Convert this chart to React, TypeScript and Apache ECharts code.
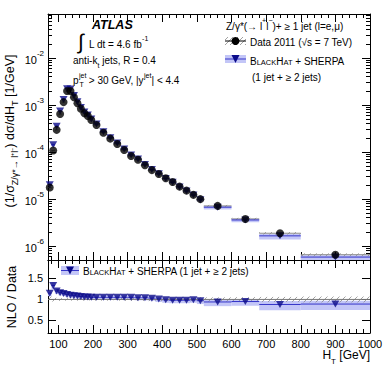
import React, { useEffect, useRef } from 'react';
import * as echarts from 'echarts';

// ---------------- data ----------------
const binEdges = [
  70, 80, 90, 100, 110, 120, 130, 140, 150, 160, 170, 180, 190, 200,
  220, 240, 260, 280, 300, 320, 340, 360, 380, 400, 420, 440, 460, 480, 500, 520,
  600, 680, 800, 1000,
];
const dataValues = [
  1.75e-5, 1.07e-4, 2.95e-4, 6.4e-4, 1.15e-3, 1.98e-3, 1.98e-3, 1.46e-3, 1.09e-3, 8.3e-4,
  6.65e-4, 5.8e-4, 4.8e-4, 3.75e-4, 2.57e-4, 1.92e-4, 1.48e-4, 1.1e-4, 8.2e-5, 6.8e-5,
  5.2e-5, 4.1e-5, 3.4e-5, 2.75e-5, 2.3e-5, 1.83e-5, 1.5e-5, 1.22e-5, 9.9e-6, 7.1e-6,
  3.75e-6, 1.86e-6, 6.5e-7,
];
const dataRelErr = [
  0.08, 0.05, 0.04, 0.035, 0.03, 0.03, 0.03, 0.03, 0.03, 0.03,
  0.03, 0.03, 0.03, 0.03, 0.03, 0.03, 0.03, 0.035, 0.035, 0.035,
  0.035, 0.04, 0.04, 0.04, 0.04, 0.045, 0.045, 0.045, 0.05, 0.05,
  0.055, 0.06, 0.07,
];
const nloRatio = [
  1.15, 1.33, 1.2, 1.16, 1.14, 1.12, 1.1, 1.09, 1.08, 1.07,
  1.06, 1.06, 1.05, 1.05, 1.05, 1.05, 1.05, 1.05, 1.05, 1.04,
  1.04, 1.03, 1.01, 0.99, 0.98, 0.98, 0.98, 0.99, 0.97, 0.94,
  0.95, 0.88, 0.89,
];
const nloErrUp = [
  0.06, 0.08, 0.06, 0.05, 0.05, 0.05, 0.05, 0.05, 0.05, 0.05,
  0.05, 0.05, 0.05, 0.05, 0.05, 0.05, 0.05, 0.05, 0.05, 0.05,
  0.05, 0.05, 0.05, 0.05, 0.05, 0.05, 0.05, 0.05, 0.05, 0.06,
  0.06, 0.08, 0.08,
];
const nloErrDown = [
  0.07, 0.09, 0.07, 0.06, 0.06, 0.06, 0.06, 0.06, 0.06, 0.06,
  0.06, 0.06, 0.06, 0.06, 0.06, 0.06, 0.06, 0.06, 0.06, 0.06,
  0.06, 0.06, 0.07, 0.07, 0.07, 0.07, 0.07, 0.07, 0.08, 0.1,
  0.1, 0.14, 0.14,
];

const xMajorTicks = [100, 200, 300, 400, 500, 600, 700, 800, 900, 1000];
const yMajorExponents = [-6, -5, -4, -3, -2];
const ratioTicks = [0.5, 1, 1.5];

// ---------------- layout / style ----------------
const X_MIN = 70;
const X_MAX = 1000;
const Y_MIN = -6.3;
const Y_MAX = -1.064;
const R_MIN = 0.2;
const R_MAX = 1.94;

const FONT = '"Liberation Sans", Arial, Helvetica, sans-serif';
const NAVY = '#0b0b8a';
const BAND = '#c3c6f7';
const MCLINE = '#3434c8';
const HATCH = '#8a8a8a';

const lg = (v: number) => Math.log10(v);

const xMinorTicks: number[] = [];
for (let v = 80; v < 1000; v += 20) if (v % 100 !== 0) xMinorTicks.push(v);
const yMinorTicks: number[] = [];
for (let n = -7; n <= -2; n++) for (let k = 2; k <= 9; k++) {
  const t = n + Math.log10(k);
  if (t > Y_MIN && t < Y_MAX) yMinorTicks.push(t);
}

// ---------------- render helpers ----------------
const rectRender = (fill: string) => (params: any, api: any) => {
  const a = api.coord([api.value(0), api.value(3)]);
  const b = api.coord([api.value(1), api.value(2)]);
  return {
    type: 'rect',
    shape: { x: a[0], y: a[1], width: b[0] - a[0], height: b[1] - a[1] },
    style: { fill },
  };
};

const hatchRender = (color: string, step: number) => (params: any, api: any) => {
  const a = api.coord([api.value(0), api.value(3)]);
  const b = api.coord([api.value(1), api.value(2)]);
  const x0 = Math.min(a[0], b[0]);
  const x1 = Math.max(a[0], b[0]);
  const y0 = Math.min(a[1], b[1]);
  const y1 = Math.max(a[1], b[1]);
  const children: any[] = [];
  const cStart = Math.ceil((x0 + y0) / step) * step;
  for (let c = cStart; c <= x1 + y1; c += step) {
    const xa = Math.max(x0, c - y1);
    const xb = Math.min(x1, c - y0);
    if (xb - xa > 0.6) {
      children.push({
        type: 'line',
        shape: { x1: xa, y1: c - xa, x2: xb, y2: c - xb },
        style: { stroke: color, lineWidth: 0.8 },
      });
    }
  }
  return { type: 'group', children };
};

const hLineRender = (color: string, width: number) => (params: any, api: any) => {
  const a = api.coord([api.value(0), api.value(2)]);
  const b = api.coord([api.value(1), api.value(2)]);
  return {
    type: 'line',
    shape: { x1: a[0], y1: a[1], x2: b[0], y2: b[1] },
    style: { stroke: color, lineWidth: width },
  };
};

function xAxis(grid: number, pos: string, ticks: number[], len: number, labels: boolean, line: boolean) {
  return {
    type: 'value', gridIndex: grid, position: pos, min: X_MIN, max: X_MAX,
    axisLine: { show: line, lineStyle: { color: '#000', width: 1 } },
    axisTick: { show: true, inside: true, length: len, customValues: ticks, lineStyle: { color: '#000', width: 1 } },
    axisLabel: labels
      ? {
          show: true, customValues: xMajorTicks, margin: 5, color: '#000', fontSize: 11, fontFamily: FONT,
          formatter: (v: number) => String(v),
        }
      : { show: false },
    splitLine: { show: false },
  };
}

function yAxis(grid: number, pos: string, ticks: number[], len: number, min: number, max: number, label: any, line: boolean) {
  return {
    type: 'value', gridIndex: grid, position: pos, min, max,
    axisLine: { show: line, lineStyle: { color: '#000', width: 1 } },
    axisTick: { show: true, inside: true, length: len, customValues: ticks, lineStyle: { color: '#000', width: 1 } },
    axisLabel: label || { show: false },
    splitLine: { show: false },
  };
}

function txt(x: number, y: number, text: string, rich: any, size = 10, align = 'left', rotation = 0, extra: any = {}) {
  return {
    type: 'text', x, y, rotation, z: 100,
    style: {
      text, rich, fill: '#000',
      font: `${extra.style || 'normal'} ${extra.weight || 'normal'} ${size}px ${FONT}`,
      fontSize: size, fontFamily: FONT, fontWeight: extra.weight || 'normal', fontStyle: extra.style || 'normal',
      textAlign: align, align, textVerticalAlign: 'middle', verticalAlign: 'middle',
    },
  };
}

const R = (size: number, lh: number, va = 'middle', extra: any = {}) => ({
  fontSize: size, lineHeight: lh, verticalAlign: va, fontFamily: FONT, fill: '#000', color: '#000', ...extra,
});

function buildOption() {
  const lo = (i: number) => binEdges[i];
  const hi = (i: number) => binEdges[i + 1];
  const ctr = (i: number) => (binEdges[i] + binEdges[i + 1]) / 2;
  const idx = dataValues.map((_, i) => i);

  const topMCBand = idx.map(i => [lo(i), hi(i), lg(dataValues[i] * (nloRatio[i] - nloErrDown[i])), lg(dataValues[i] * (nloRatio[i] + nloErrUp[i]))]);
  const topDataBand = idx.map(i => [lo(i), hi(i), lg(dataValues[i] * (1 - dataRelErr[i])), lg(dataValues[i] * (1 + dataRelErr[i]))]);
  const topDataLine = idx.map(i => [lo(i), hi(i), lg(dataValues[i])]);
  const topMCLine = idx.map(i => [lo(i), hi(i), lg(dataValues[i] * nloRatio[i])]);
  const topMCPts = idx.map(i => [ctr(i), lg(dataValues[i] * nloRatio[i])]);
  const topDataPts = idx.map(i => [ctr(i), lg(dataValues[i])]);

  const botDataBand = idx.map(i => [lo(i), hi(i), 1 - dataRelErr[i], 1 + dataRelErr[i]]);
  const botMCBand = idx.map(i => [lo(i), hi(i), nloRatio[i] - nloErrDown[i], nloRatio[i] + nloErrUp[i]]);
  const botMCLine = idx.map(i => [lo(i), hi(i), nloRatio[i]]);
  const botMCPts = idx.map(i => [ctr(i), nloRatio[i]]);

  const custom = (xi: number, yi: number, data: any[], render: any, dims: number, z = 2) => ({
    type: 'custom', xAxisIndex: xi, yAxisIndex: yi, data, renderItem: render, clip: true, z,
    encode: dims === 4 ? { x: [0, 1], y: [2, 3] } : { x: [0, 1], y: [2] },
    silent: true,
  });

  const yLabelTop = {
    show: true, customValues: yMajorExponents, margin: 4,
    formatter: (v: number) => `{b|10}{s|${Math.round(v)}}`,
    rich: {
      b: { fontSize: 11, lineHeight: 16, verticalAlign: 'bottom', fontFamily: FONT, color: '#000' },
      s: { fontSize: 8, lineHeight: 9, verticalAlign: 'top', fontFamily: FONT, color: '#000' },
    },
  };
  const yLabelBot = {
    show: true, customValues: ratioTicks, margin: 5, color: '#000', fontSize: 11, fontFamily: FONT,
    formatter: (v: number) => String(v),
  };

  // ------------- legend / annotation graphics -------------
  const g: any[] = [];
  g.push(txt(92, 25, 'ATLAS', undefined, 12.5, 'left', 0, { weight: 'bold', style: 'italic' }));
  g.push(txt(78, 41, '∫', undefined, 21, 'left'));
  g.push(txt(89, 42, '{n|L dt = 4.6 fb}{s|-1}', { n: R(10, 14, 'bottom'), s: R(7, 8, 'top') }, 10));
  g.push(txt(73, 62, '{n|anti-k}{t|t}{n| jets, R = 0.4}', { n: R(10, 14, 'top'), t: R(7, 8, 'bottom') }, 10));
  g.push(txt(73, 80, 'p', undefined, 10));
  g.push(txt(79, 75, 'jet', undefined, 7));
  g.push(txt(79.5, 84, 'T', undefined, 7));
  g.push(txt(86, 80, ' > 30 GeV, |y', undefined, 10));
  g.push(txt(144, 75, 'jet', undefined, 7));
  g.push(txt(151.5, 80, '| < 4.4', undefined, 10));

  // top right legend
  g.push(txt(226, 24, '{n|Z/γ*(→ l}{s|+}{n|l}{s|−}{n|)+ ≥ 1 jet (l=e,μ)}', { n: R(10, 14, 'bottom'), s: R(7, 8, 'top') }, 10));
  const hx0 = 225, hx1 = 246, hy0 = 37, hy1 = 45;
  for (let c = Math.ceil((hx0 + hy0) / 5) * 5; c <= hx1 + hy1; c += 5) {
    const xa = Math.max(hx0, c - hy1), xb = Math.min(hx1, c - hy0);
    if (xb - xa > 0.6) g.push({ type: 'line', z: 90, shape: { x1: xa, y1: c - xa, x2: xb, y2: c - xb }, style: { stroke: HATCH, lineWidth: 0.8 } });
  }
  g.push({ type: 'line', z: 91, shape: { x1: hx0, y1: 41, x2: hx1, y2: 41 }, style: { stroke: '#000', lineWidth: 1 } });
  g.push({ type: 'circle', z: 92, shape: { cx: 235.5, cy: 41, r: 4 }, style: { fill: '#000' } });
  g.push(txt(250, 42, 'Data 2011 (√s = 7 TeV)', undefined, 10));
  g.push({ type: 'rect', z: 90, shape: { x: 225, y: 55, width: 21, height: 8 }, style: { fill: BAND } });
  g.push({ type: 'line', z: 91, shape: { x1: 225, y1: 59, x2: 246, y2: 59 }, style: { stroke: MCLINE, lineWidth: 1 } });
  g.push({ type: 'polygon', z: 92, shape: { points: [[231.5, 55], [239.5, 55], [235.5, 63]] }, style: { fill: NAVY } });
  g.push(txt(250, 60, '{n|B}{c|LACK}{n|H}{c|AT}{n| + SHERPA}', { n: R(10, 12, 'bottom'), c: R(7.5, 10, 'bottom') }, 10));
  g.push(txt(252, 77, '(1 jet + ≥ 2 jets)', undefined, 10));

  // bottom legend
  g.push({ type: 'rect', z: 90, shape: { x: 61, y: 266, width: 18, height: 9 }, style: { fill: BAND } });
  g.push({ type: 'line', z: 91, shape: { x1: 61, y1: 270.5, x2: 79, y2: 270.5 }, style: { stroke: MCLINE, lineWidth: 1 } });
  g.push({ type: 'polygon', z: 92, shape: { points: [[66, 266.5], [74, 266.5], [70, 274.5]] }, style: { fill: NAVY } });
  g.push(txt(83, 270.5, '{n|B}{c|LACK}{n|H}{c|AT}{n| + SHERPA (1 jet + ≥ 2 jets)}', { n: R(10, 12, 'bottom'), c: R(7.5, 10, 'bottom') }, 10));

  // axis titles
  g.push(txt(11, 131, '{n|(1/σ}{t|Z/γ*→ l⁺l⁻}{n|) dσ/dH}{t|T}{n| [1/GeV]}', { n: R(12.5, 16, 'top'), t: R(9, 10, 'bottom') }, 12.5, 'center', Math.PI / 2));
  g.push(txt(12, 297, 'NLO / Data', undefined, 12.5, 'center', Math.PI / 2));
  g.push(txt(370, 357, '{n|H}{t|T}{n| [GeV]}', { n: R(12, 16, 'top'), t: R(8, 9, 'bottom') }, 12, 'right'));

  return {
    animation: false,
    backgroundColor: '#fff',
    textStyle: { fontFamily: FONT },
    grid: [
      { left: 48, top: 14, width: 322, height: 246 },
      { left: 48, top: 260, width: 322, height: 73 },
    ],
    xAxis: [
      xAxis(0, 'bottom', xMajorTicks, 8, false, true),
      xAxis(0, 'bottom', xMinorTicks, 4, false, false),
      xAxis(0, 'top', xMajorTicks, 8, false, true),
      xAxis(0, 'top', xMinorTicks, 4, false, false),
      xAxis(1, 'bottom', xMajorTicks, 8, true, true),
      xAxis(1, 'bottom', xMinorTicks, 4, false, false),
      xAxis(1, 'top', xMajorTicks, 8, false, true),
      xAxis(1, 'top', xMinorTicks, 4, false, false),
    ],
    yAxis: [
      yAxis(0, 'left', yMajorExponents, 8, Y_MIN, Y_MAX, yLabelTop, true),
      yAxis(0, 'left', yMinorTicks, 4, Y_MIN, Y_MAX, null, false),
      yAxis(0, 'right', yMajorExponents, 8, Y_MIN, Y_MAX, null, true),
      yAxis(0, 'right', yMinorTicks, 4, Y_MIN, Y_MAX, null, false),
      yAxis(1, 'left', ratioTicks, 8, R_MIN, R_MAX, yLabelBot, true),
      yAxis(1, 'right', ratioTicks, 8, R_MIN, R_MAX, null, true),
    ],
    series: [
      custom(0, 0, topMCBand, rectRender(BAND), 4),
      custom(0, 0, topDataBand, hatchRender(HATCH, 6), 4),
      custom(0, 0, topDataLine, hLineRender(HATCH, 1), 3),
      custom(0, 0, topMCLine, hLineRender(MCLINE, 1), 3),
      {
        type: 'scatter', xAxisIndex: 0, yAxisIndex: 0, data: topMCPts, symbol: 'triangle', symbolRotate: 180,
        symbolSize: [8, 7], itemStyle: { color: NAVY }, silent: true, z: 3,
      },
      {
        type: 'scatter', xAxisIndex: 0, yAxisIndex: 0, data: topDataPts, symbol: 'circle',
        symbolSize: 8, itemStyle: { color: '#000' }, silent: true, z: 4,
      },
      custom(4, 4, botMCBand, rectRender(BAND), 4),
      custom(4, 4, botDataBand, hatchRender(HATCH, 6), 4),
      {
        type: 'line', xAxisIndex: 4, yAxisIndex: 4, data: [[X_MIN, 1], [X_MAX, 1]], symbol: 'none',
        lineStyle: { color: '#777', width: 1 }, silent: true, z: 2,
      },
      custom(4, 4, botMCLine, hLineRender(MCLINE, 1), 3),
      {
        type: 'scatter', xAxisIndex: 4, yAxisIndex: 4, data: botMCPts, symbol: 'triangle', symbolRotate: 180,
        symbolSize: [8, 7], itemStyle: { color: NAVY }, silent: true, z: 3,
      },
    ],
    graphic: { elements: g },
  };
}

export default function App() {
  const ref = useRef<HTMLDivElement>(null);
  useEffect(() => {
    if (!ref.current) return;
    const chart = echarts.init(ref.current, null, { renderer: 'svg' });
    chart.setOption(buildOption() as any);
    return () => chart.dispose();
  }, []);
  return <div ref={ref} style={{ position: 'absolute', left: 0, top: 0, width: 390, height: 375, background: '#fff' }} />;
}
